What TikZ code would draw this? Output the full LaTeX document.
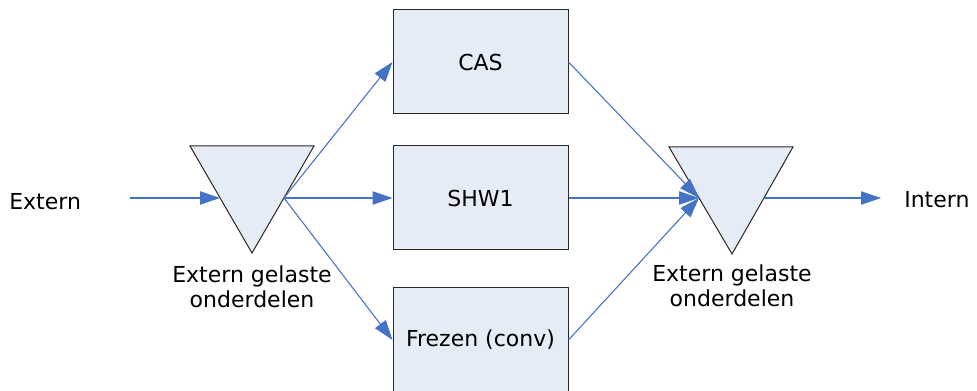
\documentclass[tikz,border=0pt]{standalone}
\usepackage{fontspec}
\setmainfont{DejaVu Sans}
\usetikzlibrary{arrows.meta}
\definecolor{boxfill}{RGB}{230,236,246}
\definecolor{arrowblue}{RGB}{68,114,196}
\definecolor{edgegray}{RGB}{40,40,40}
\begin{document}
\begin{tikzpicture}[x=0.75pt,y=-0.75pt,
  procbox/.style={draw=edgegray,fill=boxfill,line width=0.75pt,minimum width=131.25pt,minimum height=78pt,inner sep=0pt,font=\fontsize{16.5}{19}\selectfont},
  tri/.style={draw=edgegray,fill=boxfill,line width=0.75pt,line join=miter},
  flow/.style={draw=arrowblue,line width=0.8pt,-{Triangle[length=15pt,width=10pt]}},
  lbl/.style={font=\fontsize{16.5}{19}\selectfont,inner sep=0pt,align=center}]
\useasboundingbox (0,0) rectangle (977,391);
\begin{scope}
\clip (0,0) rectangle (977,391);
% boxes
\node[procbox] (cas) at (480.5,62) {CAS};
\node[procbox] (shw) at (480.5,198) {SHW1};
\node[procbox] (frez) at (480.5,340) {Frezen (conv)};
% left triangle
\path[tri] (190,146) -- (314,146) -- (252,253) -- cycle;
\coordinate (tlin) at (220,198);
\coordinate (tlout) at (284,198);
% right triangle
\path[tri] (669,147) -- (793,147) -- (732,254) -- cycle;
\coordinate (trin) at (699,198);
\coordinate (trout) at (763,198);
% texts
\node[lbl,anchor=west] (ext) at (9,202) {Extern};
\node[lbl,anchor=west] (int) at (904,200) {Intern};
\node[lbl] (l1) at (252,287) {Extern gelaste\\onderdelen};
\node[lbl] (l2) at (732,286) {Extern gelaste\\onderdelen};
\coordinate (start) at (130,198);
\coordinate (endp) at (881,198);
% connectors
\draw[flow] (start) -- (tlin);
\draw[flow] (tlout) -- (cas.west);
\draw[flow] (tlout) -- (shw.west);
\draw[flow] (tlout) -- (frez.west);
\draw[flow] (cas.east) -- (trin);
\draw[flow] (shw.east) -- (trin);
\draw[flow] (frez.east) -- (trin);
\draw[flow] (trout) -- (endp);
\end{scope}
\end{tikzpicture}
\end{document}
